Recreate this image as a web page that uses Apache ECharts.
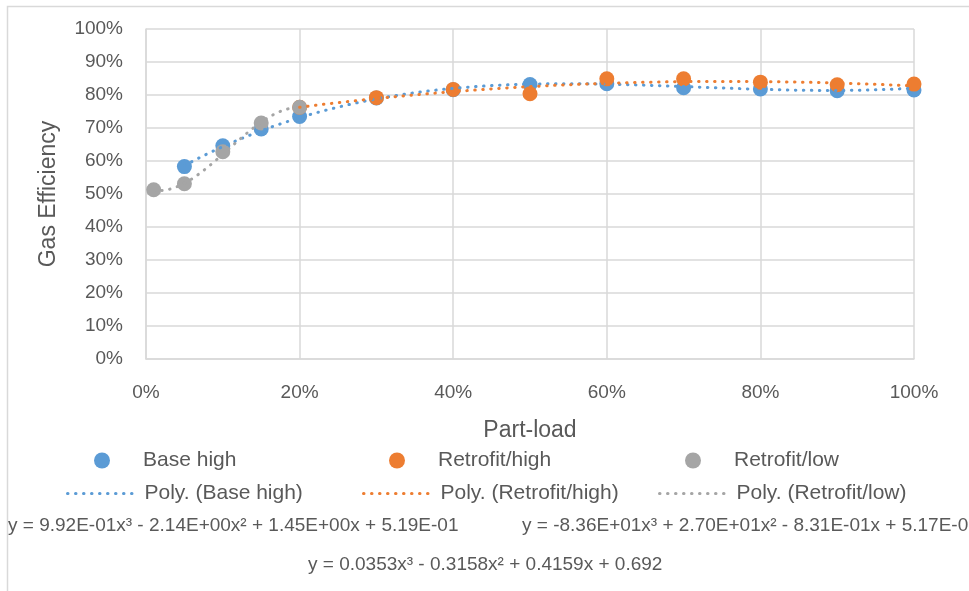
<!DOCTYPE html>
<html>
<head>
<meta charset="utf-8">
<script src="https://cdn.jsdelivr.net/npm/echarts@6/dist/echarts.min.js"></script>
<style>
  html, body { margin: 0; padding: 0; background: #fff; }
  #chart { width: 969px; height: 591px; }
</style>
</head>
<body>
<div id="chart"></div>
<script>
// part-load (x) and gas efficiency (y)
const baseX = [0.05, 0.10, 0.15, 0.20, 0.30, 0.40, 0.50, 0.60, 0.70, 0.80, 0.90, 1.00];
const baseY = [0.583, 0.646, 0.697, 0.735, 0.791, 0.816, 0.832, 0.834, 0.822, 0.818, 0.813, 0.815];

const retroHighX = [0.20, 0.30, 0.40, 0.50, 0.60, 0.70, 0.80, 0.90, 1.00];
const retroHighY = [0.763, 0.792, 0.817, 0.804, 0.849, 0.849, 0.839, 0.831, 0.833];

const retroLowX = [0.01, 0.05, 0.10, 0.15, 0.20];
const retroLowY = [0.513, 0.531, 0.628, 0.715, 0.763];

// trendline coefficients [a3, a2, a1, a0] as printed on the chart
const baseCoef = [0.992, -2.14, 1.45, 0.519];
const retroHighCoef = [0.0353, -0.3158, 0.4159, 0.692];
const retroLowCoef = [-83.6, 27.0, -0.831, 0.517];

const eqTexts = [
  'y = 9.92E-01x³ - 2.14E+00x² + 1.45E+00x + 5.19E-01',
  'y = -8.36E+01x³ + 2.70E+01x² - 8.31E-01x + 5.17E-01',
  'y = 0.0353x³ - 0.3158x² + 0.4159x + 0.692'
];

const FONT = '"Liberation Sans", Arial, sans-serif';
const TXT = '#595959';

function pairs(xs, ys) {
  return xs.map((x, i) => [x, ys[i]]);
}

// trend curve over the range of the series' own x values
function trend(coef, xs) {
  const x0 = xs[0], x1 = xs[xs.length - 1];
  const out = [];
  for (let i = 0; i <= 60; i++) {
    const x = x0 + (x1 - x0) * i / 60;
    out.push([x, ((coef[0] * x + coef[1]) * x + coef[2]) * x + coef[3]]);
  }
  return out;
}

const dots = (color) => ({ color: color, width: 3, type: [0.5, 7.5], cap: 'round' });

const chart = echarts.init(document.getElementById('chart'));

const markerLegend = (left, name) => ({
  left: left, top: 450, padding: 0, itemWidth: 16, itemHeight: 16, icon: 'circle',
  selectedMode: false, data: [name],
  textStyle: { fontFamily: FONT, fontSize: 21, color: TXT, padding: [0, 0, 0, 28] }
});
const lineLegend = (left, name) => ({
  left: left, top: 483, padding: 0, itemWidth: 70, itemHeight: 16,
  selectedMode: false, data: [name],
  itemStyle: { opacity: 0 },
  lineStyle: { width: 3, type: [0.5, 7.5], cap: 'round' },
  textStyle: { fontFamily: FONT, fontSize: 21, color: TXT, padding: [0, 0, 0, 2] }
});

chart.setOption({
  backgroundColor: '#fff',
  animation: false,
  grid: { left: 146, right: 55, top: 29, bottom: 232 },
  xAxis: {
    type: 'value', min: 0, max: 1, interval: 0.2,
    name: 'Part-load', nameLocation: 'middle', nameGap: 60,
    nameTextStyle: { fontFamily: FONT, fontSize: 23, color: TXT },
    axisLine: { show: true, lineStyle: { color: '#d9d9d9', width: 1.5 } },
    axisTick: { show: false },
    splitLine: { show: true, lineStyle: { color: '#d9d9d9', width: 1.5 } },
    axisLabel: {
      fontFamily: FONT, fontSize: 19, color: TXT, margin: 24,
      formatter: v => Math.round(v * 100) + '%'
    }
  },
  yAxis: {
    type: 'value', min: 0, max: 1, interval: 0.1,
    name: 'Gas Efficiency', nameLocation: 'middle', nameGap: 86,
    nameTextStyle: { fontFamily: FONT, fontSize: 23, color: TXT },
    axisLine: { show: true, lineStyle: { color: '#d9d9d9', width: 1.5 } },
    axisTick: { show: false },
    splitLine: { show: true, lineStyle: { color: '#d9d9d9', width: 1.5 } },
    axisLabel: {
      fontFamily: FONT, fontSize: 19, color: TXT, margin: 23,
      formatter: v => Math.round(v * 100) + '%'
    }
  },
  legend: [
    markerLegend(94, 'Base high'),
    markerLegend(389, 'Retrofit/high'),
    markerLegend(685, 'Retrofit/low'),
    lineLegend(66, 'Poly. (Base high)'),
    lineLegend(362, 'Poly. (Retrofit/high)'),
    lineLegend(658, 'Poly. (Retrofit/low)')
  ],
  graphic: [
    { type: 'rect', shape: { x: 7.5, y: 6.5, width: 1200, height: 1200 }, style: { fill: 'none', stroke: '#d9d9d9', lineWidth: 1.5 }, silent: true, z: -1 },
    { type: 'text', left: 8, top: 516, style: { text: eqTexts[0], font: '19px ' + FONT, fill: TXT } },
    { type: 'text', left: 522, top: 516, style: { text: eqTexts[1], font: '19px ' + FONT, fill: TXT } },
    { type: 'text', left: 308, top: 555, style: { text: eqTexts[2], font: '19px ' + FONT, fill: TXT } }
  ],
  series: [
    { name: 'Base high', type: 'scatter', symbolSize: 15, itemStyle: { color: '#5B9BD5', opacity: 1 }, data: pairs(baseX, baseY), z: 2 },
    { name: 'Retrofit/high', type: 'scatter', symbolSize: 15, itemStyle: { color: '#ED7D31', opacity: 1 }, data: pairs(retroHighX, retroHighY), z: 2 },
    { name: 'Retrofit/low', type: 'scatter', symbolSize: 15, itemStyle: { color: '#A5A5A5', opacity: 1 }, data: pairs(retroLowX, retroLowY), z: 2 },
    { name: 'Poly. (Base high)', type: 'line', symbol: 'none', showSymbol: false, itemStyle: { color: '#5B9BD5' }, lineStyle: dots('#5B9BD5'), data: trend(baseCoef, baseX), z: 3 },
    { name: 'Poly. (Retrofit/high)', type: 'line', symbol: 'none', showSymbol: false, itemStyle: { color: '#ED7D31' }, lineStyle: dots('#ED7D31'), data: trend(retroHighCoef, retroHighX), z: 3 },
    { name: 'Poly. (Retrofit/low)', type: 'line', symbol: 'none', showSymbol: false, itemStyle: { color: '#A5A5A5' }, lineStyle: dots('#A5A5A5'), data: trend(retroLowCoef, retroLowX), z: 3 }
  ]
});
</script>
</body>
</html>
